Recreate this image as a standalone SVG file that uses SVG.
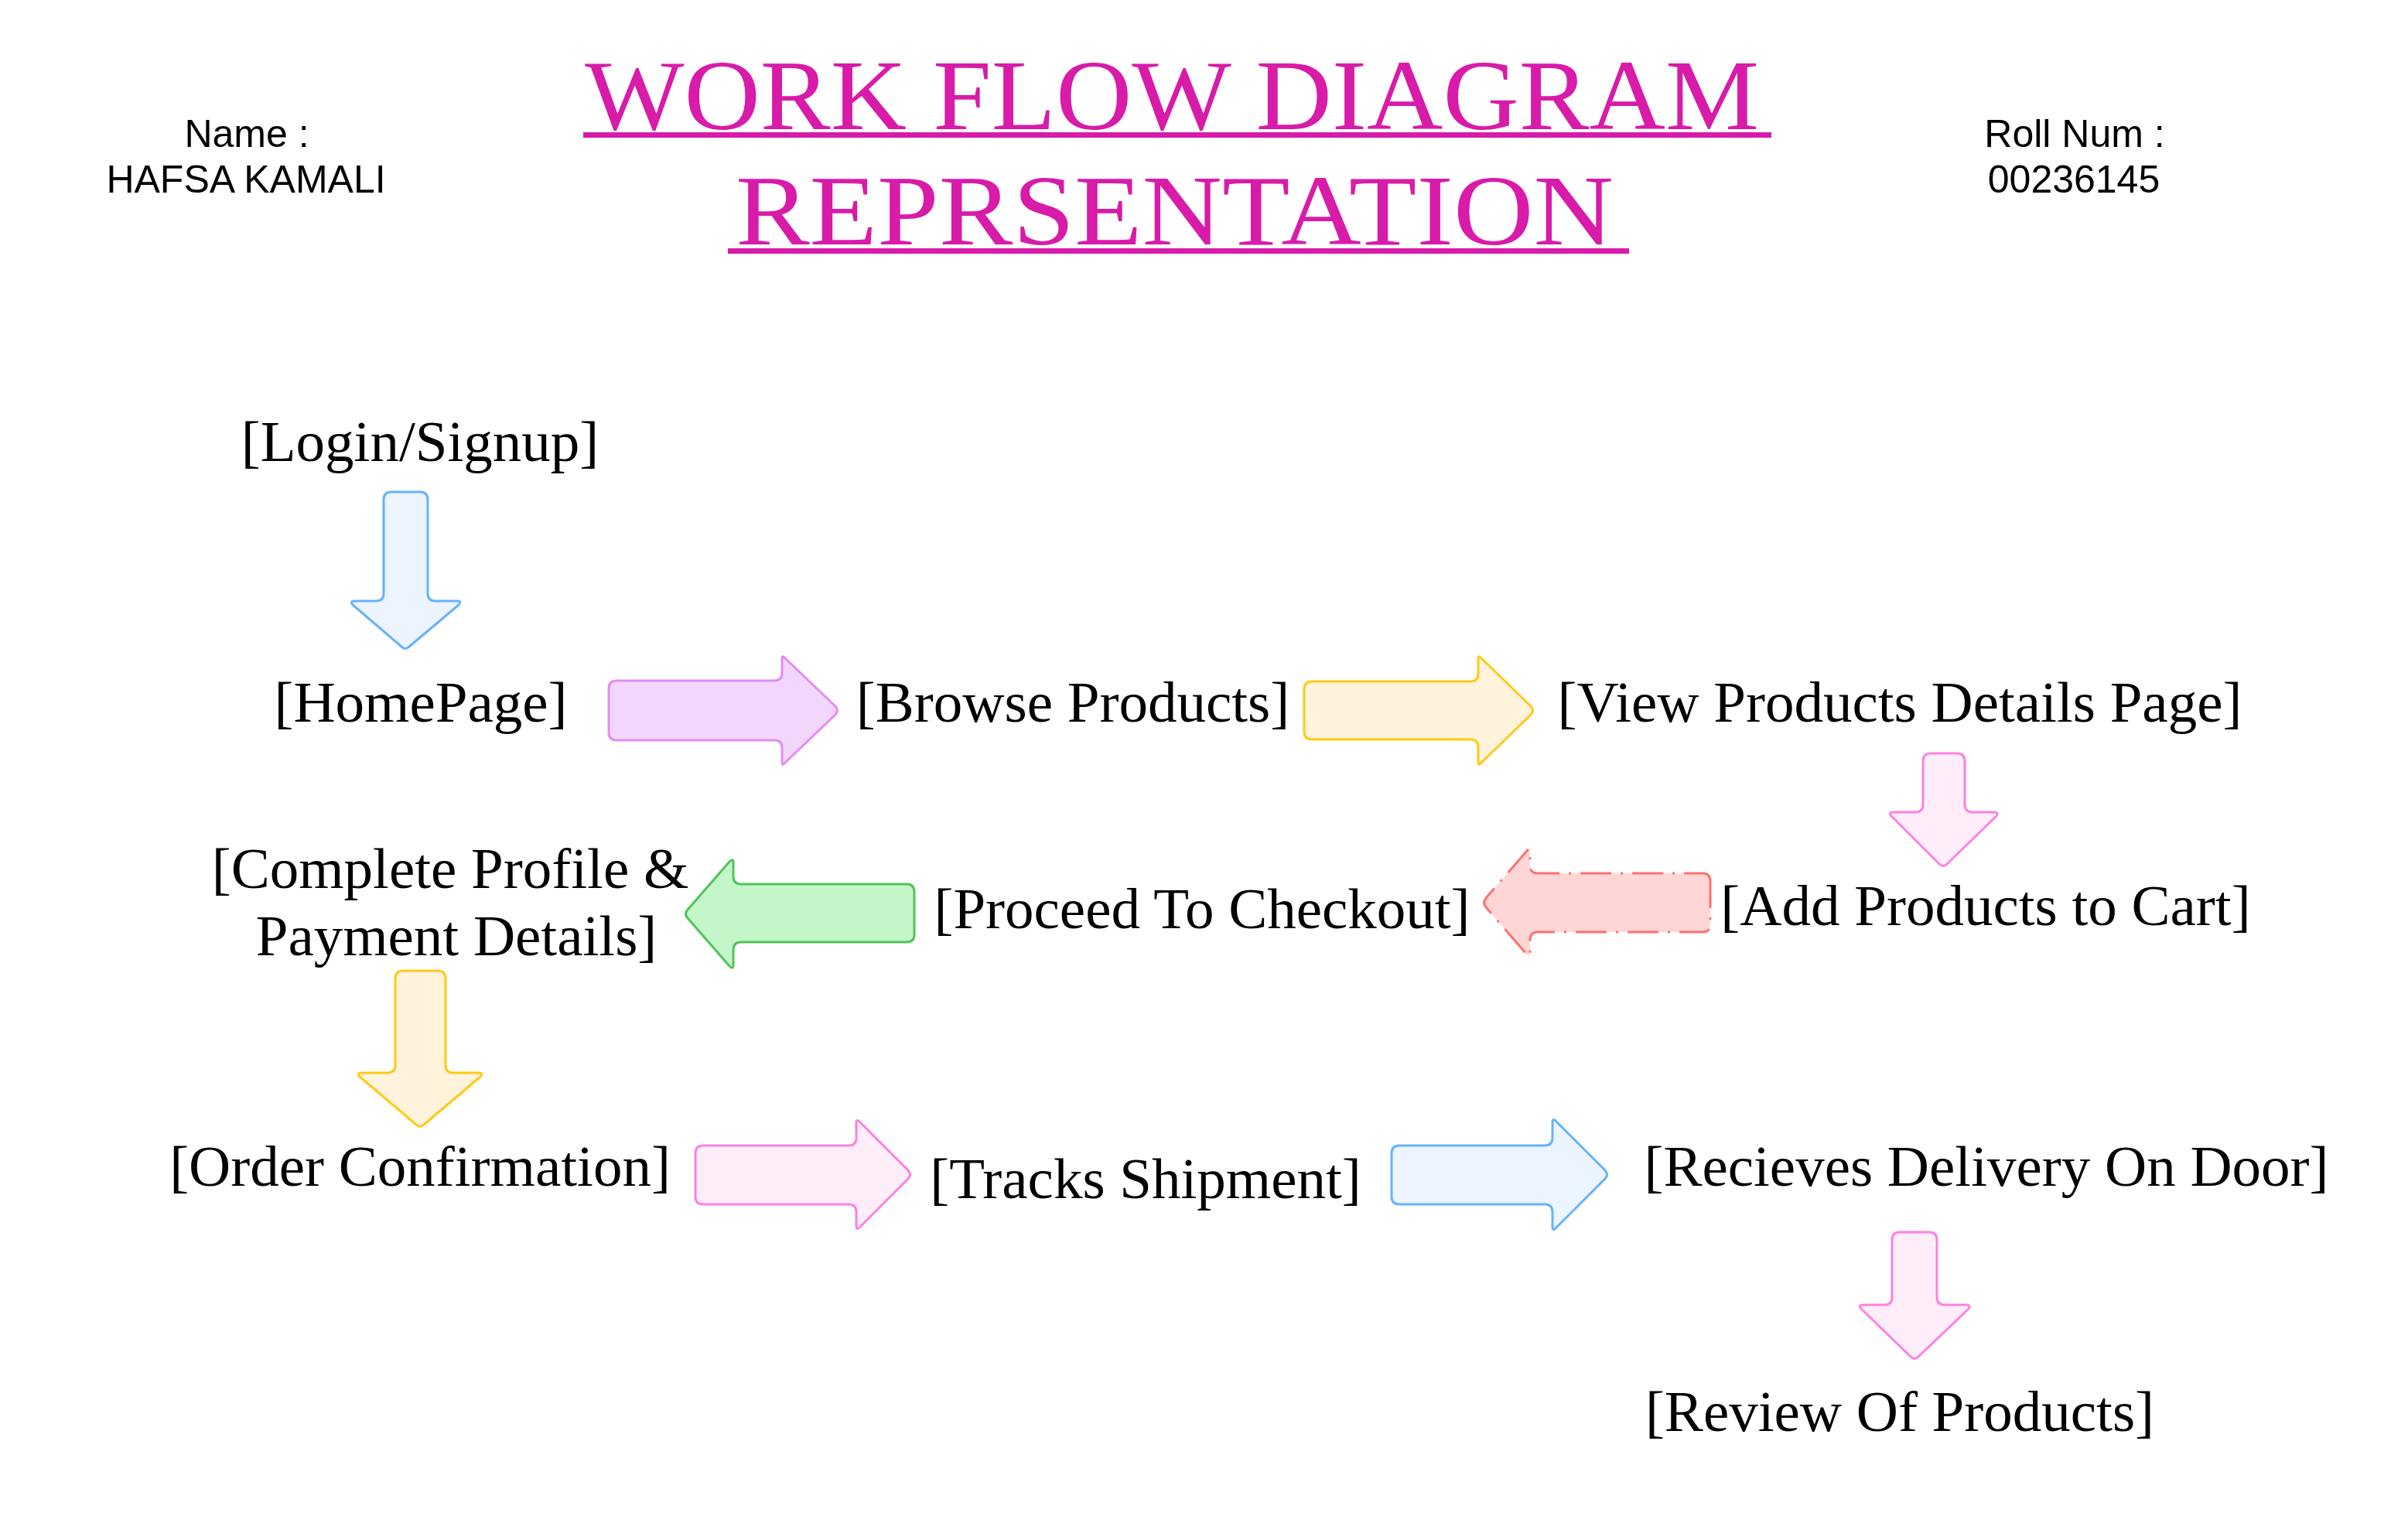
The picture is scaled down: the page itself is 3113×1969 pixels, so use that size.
<svg xmlns="http://www.w3.org/2000/svg" width="3113" height="1969" viewBox="0 0 3113 1969">
<style>
.lbl{font-family:"Liberation Serif","Times New Roman",serif;font-size:75px;fill:#000;text-anchor:middle}
.hdr{font-family:"Liberation Sans",Arial,sans-serif;font-size:50px;fill:#000;text-anchor:middle}
.ttl{font-family:"Liberation Serif","Times New Roman",serif;font-size:130px;fill:#D81BA9}
.arr{stroke-width:3;stroke-linejoin:round}
.blue{fill:#EBF4FF;stroke:#66B2FF}
.purple{fill:#F2D6FC;stroke:#E38BF7}
.yellow{fill:#FFF3DB;stroke:#FFCA14}
.pink{fill:#FFEEFA;stroke:#FF80E2}
.green{fill:#C3F6C8;stroke:#52C35A}
.red{fill:#FFD6D6;stroke:#FF7070;stroke-dasharray:40 12 3 12}
</style>
<rect width="3113" height="1969" fill="#fff"/>
<g id="title">
<text class="ttl" x="756" y="167" textLength="1518" lengthAdjust="spacingAndGlyphs">WORK FLOW DIAGRAM</text>
<rect x="754" y="171" width="1536" height="7" fill="#D81BA9"/>
<text class="ttl" x="951" y="316" textLength="1135" lengthAdjust="spacingAndGlyphs">REPRSENTATION</text>
<rect x="941" y="321" width="1165" height="7" fill="#D81BA9"/>
</g>
<g id="name">
<text class="hdr" x="319" y="190">Name :</text>
<text class="hdr" x="318" y="249">HAFSA KAMALI</text>
</g>
<g id="roll">
<text class="hdr" x="2682" y="190">Roll Num :</text>
<text class="hdr" x="2681" y="249">00236145</text>
</g>
<g id="n-login"><text class="lbl" x="543" y="596">[Login/Signup]</text></g>
<g id="n-home"><text class="lbl" x="544" y="933">[HomePage]</text></g>
<g id="n-browse"><text class="lbl" x="1387" y="933">[Browse Products]</text></g>
<g id="n-view"><text class="lbl" x="2456" y="933">[View Products Details Page]</text></g>
<g id="n-add"><text class="lbl" x="2567" y="1196">[Add Products to Cart]</text></g>
<g id="n-checkout"><text class="lbl" x="1554" y="1200">[Proceed To Checkout]</text></g>
<g id="n-profile"><text class="lbl" x="582" y="1148">[Complete Profile &amp;</text><text class="lbl" x="590" y="1235">Payment Details]</text></g>
<g id="n-order"><text class="lbl" x="543" y="1533">[Order Confirmation]</text></g>
<g id="n-track"><text class="lbl" x="1481" y="1549">[Tracks Shipment]</text></g>
<g id="n-deliver"><text class="lbl" x="2568" y="1533">[Recieves Delivery On Door]</text></g>
<g id="n-review"><text class="lbl" x="2456" y="1850">[Review Of Products]</text></g>
<g id="connectors">
<!-- login -> home (down, blue) -->
<path class="arr blue" d="M506 636 L543 636 Q553 636 553 646 L553 767 Q553 777 563 777 L591 777 Q597 777 593 782 L529 836 Q524 841 519 836 L456 782 Q452 777 458 777 L486 777 Q496 777 496 767 L496 646 Q496 636 506 636 Z"/>
<!-- home -> browse (right, purple) -->
<path class="arr purple" d="M787 890 Q787 880 797 880 L1001 880 Q1011 880 1011 870 L1011 852 Q1011 846 1015 851 L1080 913 Q1085 918.5 1080 924 L1015 986 Q1011 991 1011 985 L1011 967 Q1011 957 1001 957 L797 957 Q787 957 787 947 Z"/>
<!-- browse -> view (right, yellow) -->
<path class="arr yellow" d="M1686 891 Q1686 881 1696 881 L1901 881 Q1911 881 1911 871 L1911 852 Q1911 846 1915 851 L1979 913 Q1984 918.5 1979 924 L1915 986 Q1911 991 1911 985 L1911 966 Q1911 956 1901 956 L1696 956 Q1686 956 1686 946 Z"/>
<!-- view -> add (down, pink) -->
<path class="arr pink" d="M2496 974 L2530 974 Q2540 974 2540 984 L2540 1040 Q2540 1050 2550 1050 L2578 1050 Q2584 1050 2581 1055 L2517 1117 Q2512 1122 2507 1117 L2445 1055 Q2441 1050 2447 1050 L2476 1050 Q2486 1050 2486 1040 L2486 984 Q2486 974 2496 974 Z"/>
<!-- add -> checkout (left, red dashed) -->
<path class="arr red" d="M2211 1139 Q2211 1129 2201 1129 L1988 1129 Q1978 1129 1978 1119 L1978 1101 Q1978 1095 1974 1100 L1921 1161 Q1916 1167 1921 1173 L1974 1234 Q1978 1239 1978 1233 L1978 1215 Q1978 1205 1988 1205 L2201 1205 Q2211 1205 2211 1195 Z"/>
<!-- checkout -> profile (left, green) -->
<path class="arr green" d="M1182 1153 Q1182 1143 1172 1143 L958 1143 Q948 1143 948 1133 L948 1115 Q948 1109 943 1114 L889 1176 Q884 1181.5 889 1187 L943 1249 Q948 1254 948 1248 L948 1228 Q948 1218 958 1218 L1172 1218 Q1182 1218 1182 1208 Z"/>
<!-- profile -> order (down, yellow) -->
<path class="arr yellow" d="M521 1255 L566 1255 Q576 1255 576 1265 L576 1377 Q576 1387 586 1387 L619 1387 Q625 1387 621 1392 L548 1454 Q543 1459 538 1454 L465 1392 Q461 1387 467 1387 L501 1387 Q511 1387 511 1377 L511 1265 Q511 1255 521 1255 Z"/>
<!-- order -> track (right, pink) -->
<path class="arr pink" d="M899 1491 Q899 1481 909 1481 L1097 1481 Q1107 1481 1107 1471 L1107 1452 Q1107 1446 1111 1450 L1174 1513 Q1179 1518.5 1174 1524 L1111 1587 Q1107 1591 1107 1585 L1107 1567 Q1107 1557 1097 1557 L909 1557 Q899 1557 899 1547 Z"/>
<!-- track -> deliver (right, blue) -->
<path class="arr blue" d="M1799 1491 Q1799 1481 1809 1481 L1997 1481 Q2007 1481 2007 1471 L2007 1451 Q2007 1445 2011 1449 L2075 1513 Q2080 1518.5 2075 1524 L2011 1588 Q2007 1592 2007 1586 L2007 1567 Q2007 1557 1997 1557 L1809 1557 Q1799 1557 1799 1547 Z"/>
<!-- deliver -> review (down, pink) -->
<path class="arr pink" d="M2456 1593 L2494 1593 Q2504 1593 2504 1603 L2504 1677 Q2504 1687 2514 1687 L2542 1687 Q2548 1687 2545 1692 L2480 1754 Q2475 1759 2470 1754 L2406 1692 Q2402 1687 2408 1687 L2436 1687 Q2446 1687 2446 1677 L2446 1603 Q2446 1593 2456 1593 Z"/>
</g>
</svg>
